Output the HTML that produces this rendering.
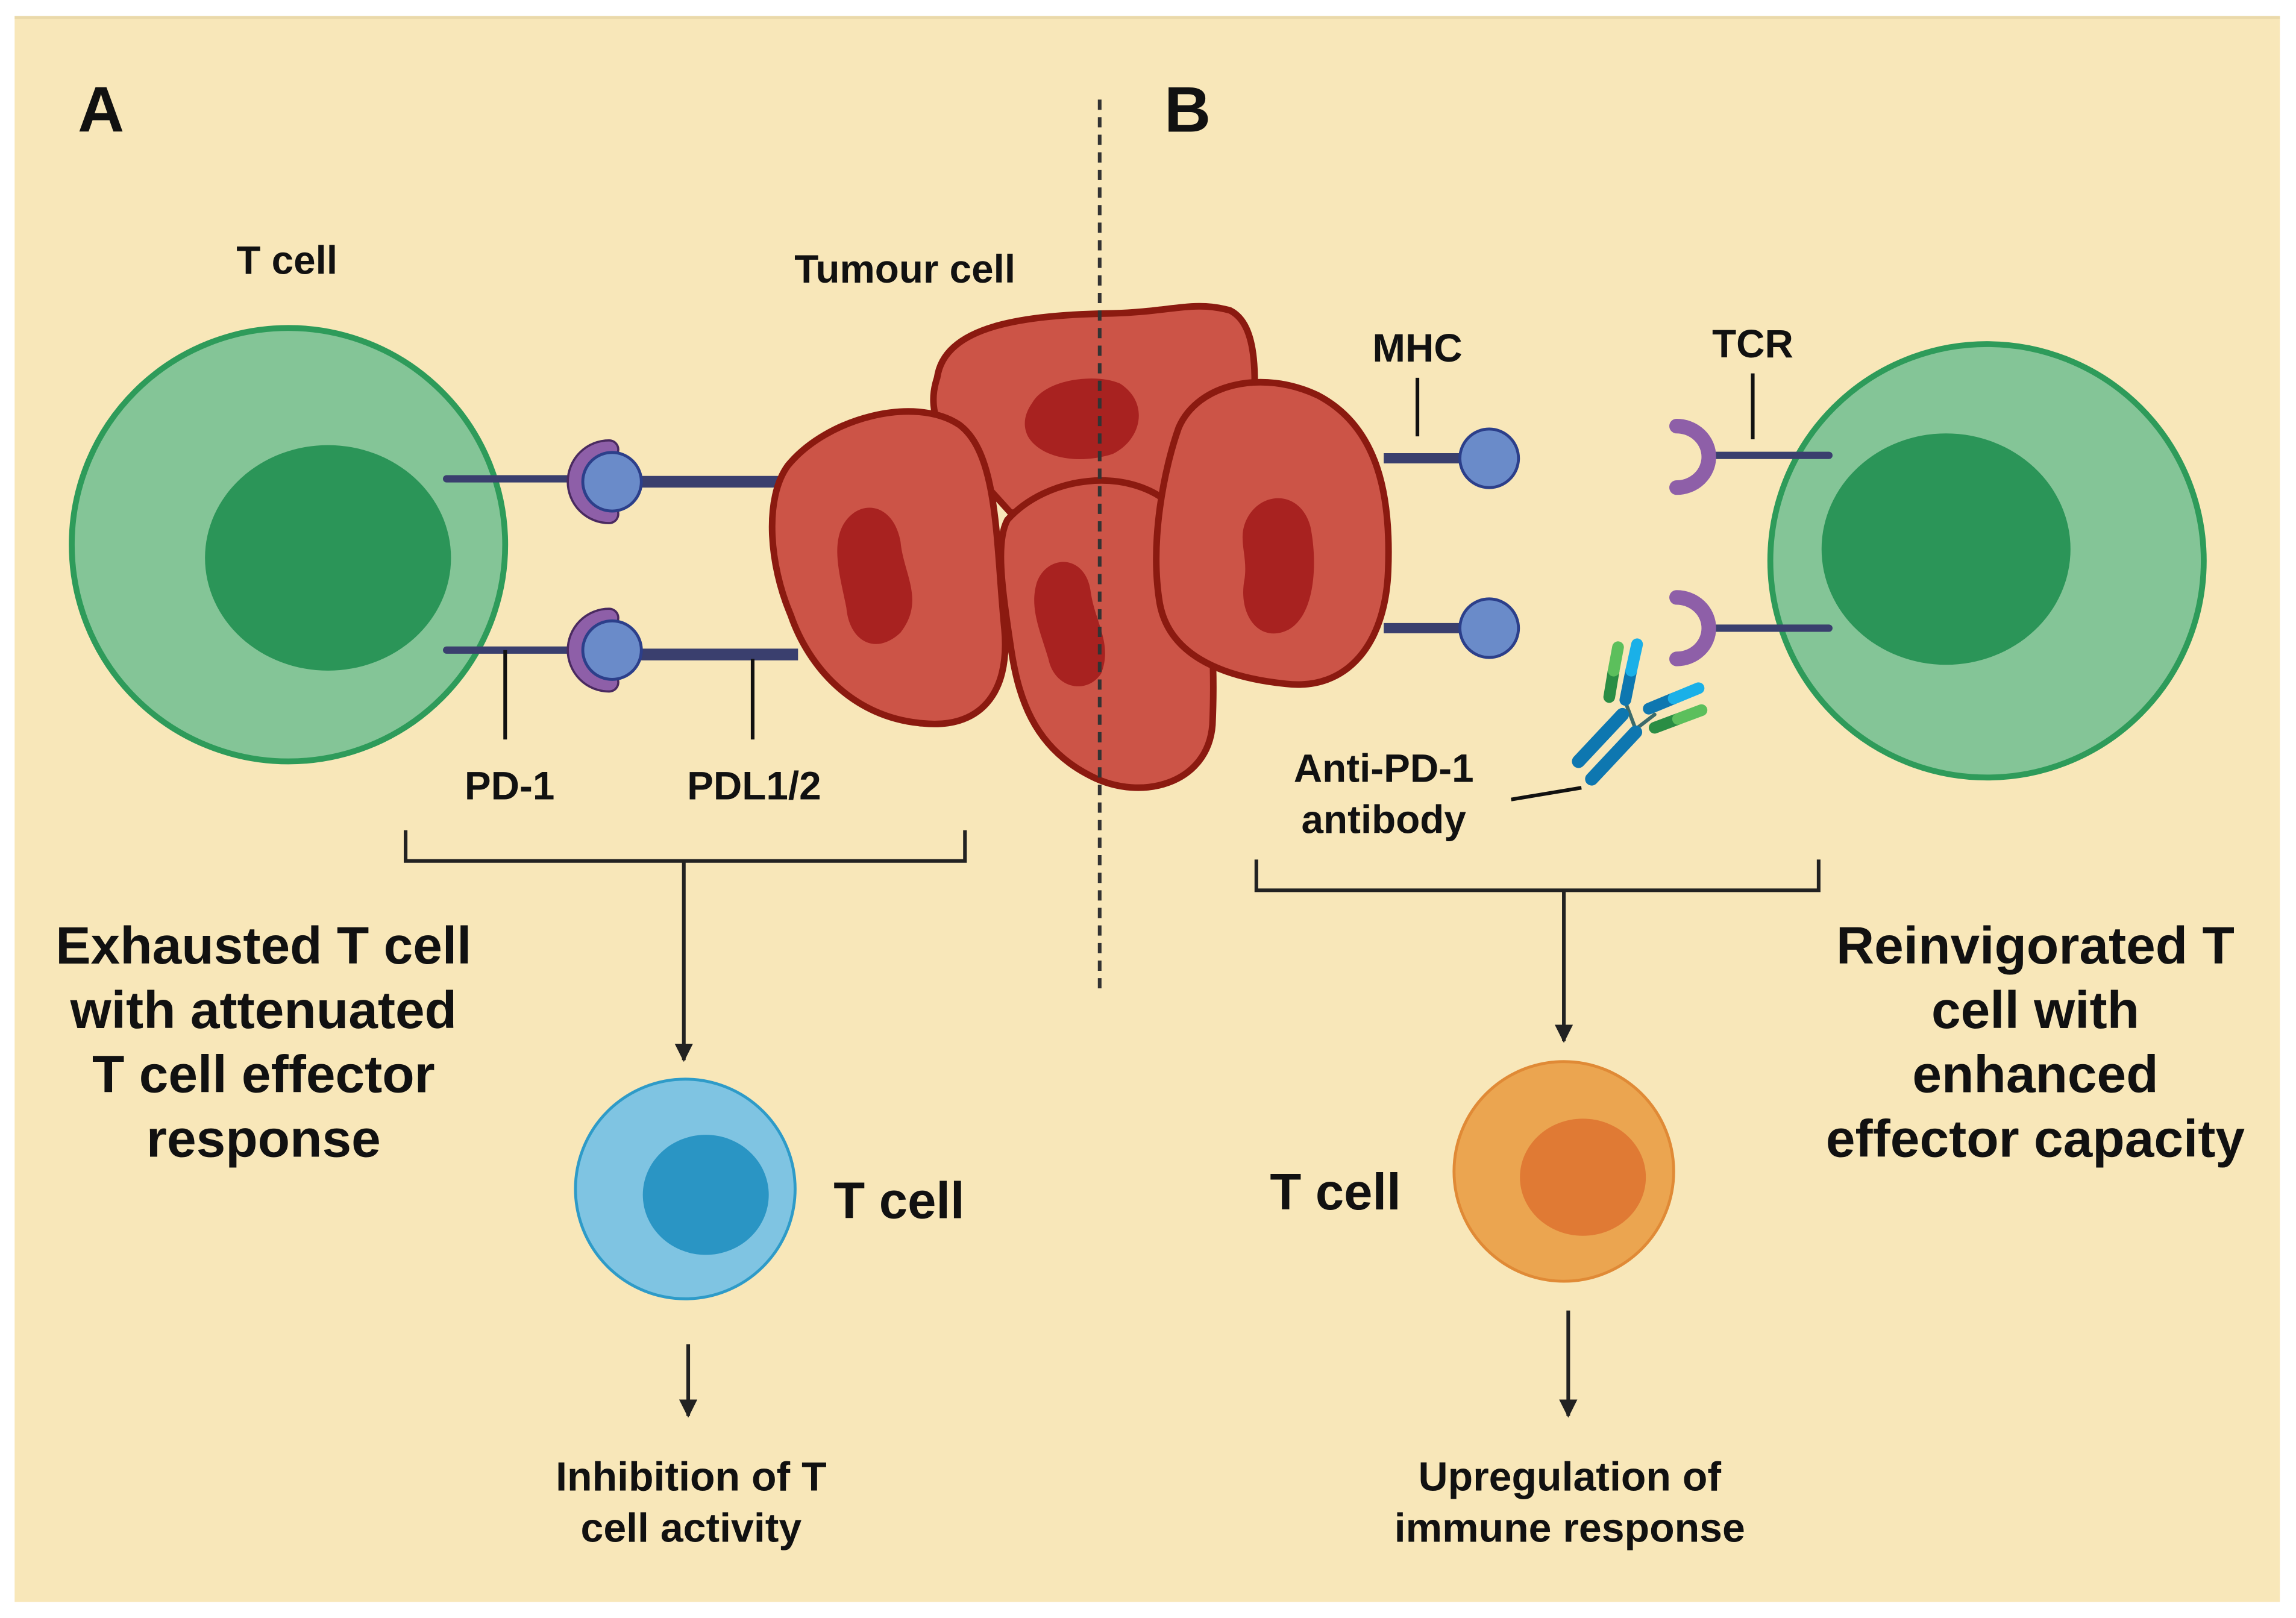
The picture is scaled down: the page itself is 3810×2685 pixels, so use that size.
<!DOCTYPE html>
<html><head><meta charset="utf-8"><style>
html,body{margin:0;padding:0;background:#fff;}
svg{display:block;}
text{font-family:"Liberation Sans",sans-serif;font-weight:bold;fill:#111;text-anchor:middle;}
</style></head><body>
<svg width="3810" height="2685" viewBox="0 0 1568 1105" xmlns="http://www.w3.org/2000/svg">
<defs>
<marker id="ah" viewBox="0 0 10 10" refX="9" refY="5" markerWidth="5" markerHeight="5" orient="auto"><path d="M0,0 L10,5 L0,10 Z" fill="#222"/></marker>
</defs>
<rect x="0" y="0" width="1568" height="1105" fill="#fff"/>
<rect x="10" y="11" width="1547" height="1083" fill="#f8e7b9"/>
<rect x="10" y="11" width="1547" height="2" fill="#ead9aa"/>

<text x="69" y="90" font-size="44">A</text>
<text x="811" y="90" font-size="44">B</text>

<!-- left T cell -->
<circle cx="197" cy="372" r="148" fill="#84c597" stroke="#2e9b5a" stroke-width="4"/>
<ellipse cx="224" cy="381" rx="84" ry="77" fill="#2b9558"/>
<text x="196" y="187" font-size="27">T cell</text>

<!-- right T cell -->
<circle cx="1357" cy="383" r="148" fill="#84c597" stroke="#2e9b5a" stroke-width="4"/>
<ellipse cx="1329" cy="375" rx="85" ry="79" fill="#2b9558"/>

<!-- left receptors -->
<g stroke="#3a3f6e" stroke-linecap="round">
<line x1="305" y1="327" x2="390" y2="327" stroke-width="5"/>
<line x1="305" y1="444" x2="390" y2="444" stroke-width="5"/>
<line x1="430" y1="329" x2="535" y2="329" stroke-width="8" stroke-linecap="butt"/>
<line x1="430" y1="447" x2="545" y2="447" stroke-width="8" stroke-linecap="butt"/>
</g>
<g fill="none" stroke="#4a2a60" stroke-width="14" stroke-linecap="round">
<path d="M416,307 A22,22 0 1 0 416,351"/>
<path d="M416,422 A22,22 0 1 0 416,466"/>
</g>
<g fill="none" stroke="#8e5fa8" stroke-width="11" stroke-linecap="round">
<path d="M416,307 A22,22 0 1 0 416,351"/>
<path d="M416,422 A22,22 0 1 0 416,466"/>
</g>
<circle cx="418" cy="329" r="20" fill="#6a8bc9" stroke="#2c3f8a" stroke-width="2"/>
<circle cx="418" cy="444" r="20" fill="#6a8bc9" stroke="#2c3f8a" stroke-width="2"/>
<g stroke="#111" stroke-width="2.5">
<line x1="345" y1="444" x2="345" y2="505"/>
<line x1="514" y1="450" x2="514" y2="505"/>
</g>
<text x="348" y="546" font-size="27">PD-1</text>
<text x="515" y="546" font-size="27">PDL1/2</text>

<!-- tumour cells -->
<g stroke="#8b1a10" stroke-width="4.5" fill="#cc5447" stroke-linejoin="round">
<path d="M640,258 C645,222 700,215 760,214 C800,213 815,205 840,212 C860,222 858,260 855,300 L830,345 C800,348 720,352 690,350 L645,300 C636,282 636,270 640,258Z"/>
<path d="M688,355 C715,325 770,318 800,345 C828,375 830,450 828,495 C825,535 780,548 745,530 C705,510 695,475 690,440 C684,400 680,370 688,355Z"/>
<path d="M538,318 C565,285 625,270 655,290 C682,310 680,370 686,430 C690,475 668,498 630,494 C582,490 552,455 540,420 C525,385 522,340 538,318Z"/>
<path d="M805,292 C818,262 862,252 900,270 C942,292 950,340 948,390 C946,440 920,472 878,467 C830,462 798,445 792,412 C785,370 795,320 805,292Z"/>
</g>
<g fill="#a82220">
<path d="M705,275 C715,258 750,255 765,262 C785,275 780,300 760,310 C735,318 710,312 702,298 C698,290 700,282 705,275Z"/>
<path d="M575,360 C585,340 610,342 615,370 C617,392 632,410 615,432 C598,448 580,438 578,415 C574,395 568,375 575,360Z"/>
<path d="M708,398 C715,378 742,378 745,405 C748,425 760,440 752,460 C742,475 720,470 716,450 C710,430 703,415 708,398Z"/>
<path d="M850,358 C858,335 888,333 895,360 C900,385 898,420 880,430 C860,440 845,420 850,395 C852,380 846,370 850,358Z"/>
</g>
<text x="618" y="193" font-size="27">Tumour cell</text>

<!-- dashed divider -->
<line x1="751" y1="68" x2="751" y2="677" stroke="#333" stroke-width="2.5" stroke-dasharray="7,5"/>

<!-- right side MHC -->
<g stroke="#3a3f6e" stroke-width="7">
<line x1="945" y1="313" x2="1000" y2="313"/>
<line x1="945" y1="429" x2="1000" y2="429"/>
</g>
<circle cx="1017" cy="313" r="20" fill="#6a8bc9" stroke="#2c3f8a" stroke-width="2"/>
<circle cx="1017" cy="429" r="20" fill="#6a8bc9" stroke="#2c3f8a" stroke-width="2"/>
<line x1="968" y1="258" x2="968" y2="298" stroke="#111" stroke-width="2.5"/>
<text x="968" y="247" font-size="27">MHC</text>

<!-- TCR -->
<g stroke="#3a3f6e" stroke-width="5" stroke-linecap="round">
<line x1="1172" y1="311" x2="1249" y2="311"/>
<line x1="1172" y1="429" x2="1249" y2="429"/>
</g>
<g fill="none" stroke="#8e5fa8" stroke-width="10" stroke-linecap="round">
<path d="M1145,291 A22,21 0 0 1 1145,333"/>
<path d="M1145,408 A22,21 0 0 1 1145,450"/>
</g>
<line x1="1197" y1="255" x2="1197" y2="300" stroke="#111" stroke-width="2.5"/>
<text x="1197" y="244" font-size="27">TCR</text>

<!-- antibody -->
<g stroke-linecap="round" fill="none">
<line x1="1117" y1="498" x2="1130" y2="488" stroke="#3c6b6b" stroke-width="2.5"/>
<line x1="1117" y1="498" x2="1111" y2="482" stroke="#3c6b6b" stroke-width="2.5"/>
<line x1="1078" y1="520" x2="1108" y2="488" stroke="#0e77b0" stroke-width="9"/>
<line x1="1087" y1="532" x2="1117" y2="500" stroke="#0e77b0" stroke-width="9"/>
<line x1="1099" y1="476" x2="1102" y2="458" stroke="#2a8d44" stroke-width="8"/>
<line x1="1102" y1="458" x2="1105" y2="442" stroke="#5cbf5c" stroke-width="8"/>
<line x1="1110" y1="478" x2="1114" y2="458" stroke="#0e77b0" stroke-width="8"/>
<line x1="1114" y1="458" x2="1118" y2="440" stroke="#1ab0e8" stroke-width="8"/>
<line x1="1126" y1="484" x2="1143" y2="477" stroke="#0e77b0" stroke-width="8"/>
<line x1="1143" y1="477" x2="1160" y2="470" stroke="#1ab0e8" stroke-width="8"/>
<line x1="1130" y1="497" x2="1146" y2="491" stroke="#2a8d44" stroke-width="8"/>
<line x1="1146" y1="491" x2="1162" y2="485" stroke="#5cbf5c" stroke-width="8"/>
</g>
<line x1="1032" y1="546" x2="1080" y2="538" stroke="#111" stroke-width="2.5"/>
<text x="945" y="534" font-size="27">Anti-PD-1</text>
<text x="945" y="569" font-size="27">antibody</text>

<!-- brackets and arrows -->
<g stroke="#222" stroke-width="2.5" fill="none">
<path d="M277,567 L277,588 L659,588 L659,567"/>
<path d="M858,587 L858,608 L1242,608 L1242,587"/>
<line x1="467" y1="588" x2="467" y2="724" marker-end="url(#ah)"/>
<line x1="1068" y1="608" x2="1068" y2="711" marker-end="url(#ah)"/>
<line x1="470" y1="918" x2="470" y2="967" marker-end="url(#ah)"/>
<line x1="1071" y1="895" x2="1071" y2="967" marker-end="url(#ah)"/>
</g>

<!-- blue T cell -->
<circle cx="468" cy="812" r="75" fill="#7fc4e2" stroke="#2e9bc8" stroke-width="2"/>
<ellipse cx="482" cy="816" rx="43" ry="41" fill="#2a95c4"/>
<text x="614" y="832" font-size="35">T cell</text>

<!-- orange T cell -->
<circle cx="1068" cy="800" r="75" fill="#eba550" stroke="#e08a36" stroke-width="2"/>
<ellipse cx="1081" cy="804" rx="43" ry="40" fill="#e07a34"/>
<text x="912" y="826" font-size="35">T cell</text>

<text x="472" y="1018" font-size="28">Inhibition of T</text>
<text x="472" y="1053" font-size="28">cell activity</text>
<text x="1072" y="1018" font-size="28">Upregulation of</text>
<text x="1072" y="1053" font-size="28">immune response</text>

<g font-size="36">
<text x="180" y="658">Exhausted T cell</text>
<text x="180" y="702">with attenuated</text>
<text x="180" y="746">T cell effector</text>
<text x="180" y="790">response</text>
<text x="1390" y="658">Reinvigorated T</text>
<text x="1390" y="702">cell with</text>
<text x="1390" y="746">enhanced</text>
<text x="1390" y="790">effector capacity</text>
</g>
</svg>
</body></html>
